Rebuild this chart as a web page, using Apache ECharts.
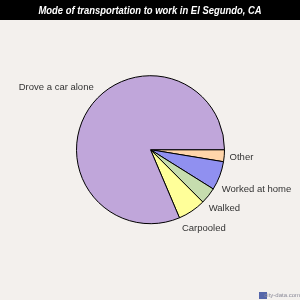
<!DOCTYPE html>
<html><head><meta charset="utf-8">
<script src="https://cdn.jsdelivr.net/npm/echarts@6/dist/echarts.min.js"></script>
<style>html,body{margin:0;padding:0;background:#f3f0ed;}#c{width:300px;height:300px;}</style>
</head><body><div id="c"></div>
<script>
const titleText = 'Mode of transportation to work in El Segundo, CA';
const categories = ['Other', 'Worked at home', 'Walked', 'Carpooled', 'Drove a car alone'];
const values = [2.6, 6.3, 3.6, 6.1, 81.4];
const colors = ['#ffd5aa', '#9090f0', '#c6ddae', '#ffff99', '#c0a6da'];

const chart = echarts.init(document.getElementById('c'), null, {renderer: 'canvas'});
const CX = 150.5, CY = 149.7, R = 74, GAP = 5;
const total = values.reduce((a, b) => a + b, 0);
const mids = [];
let acc = 0;
values.forEach(v => { mids.push((acc + v / 2) / total * 2 * Math.PI); acc += v; });

chart.setOption({
  backgroundColor: '#f3f0ed',
  animation: false,
  graphic: [
    {type: 'rect', left: 0, top: 0, z: -1, shape: {width: 300, height: 20}, style: {fill: '#000'}},
    {type: 'text', x: 150, y: 10.5, scaleX: 0.82, z: 10,
     style: {text: titleText, fill: '#fff', align: 'center', verticalAlign: 'middle',
             font: 'italic bold 11.5px "Liberation Sans", Arial, sans-serif'}},
    {type: 'rect', right: 33, bottom: 1, shape: {width: 8, height: 7}, style: {fill: '#5566aa'}},
    {type: 'text', right: 0, bottom: 2, style: {text: 'city-data.com', fill: '#8a8a99', fontSize: 6, fontFamily: 'Liberation Sans'}}
  ],
  series: [{
    type: 'pie',
    center: [CX, CY],
    radius: R,
    startAngle: 0,
    clockwise: true,
    avoidLabelOverlap: false,
    data: categories.map((n, i) => ({name: n, value: values[i], itemStyle: {color: colors[i]}})),
    itemStyle: {borderColor: '#000', borderWidth: 1},
    label: {show: true, position: 'outside', color: '#333', fontSize: 9.5, fontFamily: 'Liberation Sans'},
    labelLine: {show: false},
    emphasis: {disabled: true},
    labelLayout: function (p) {
      const a = mids[p.dataIndex];
      const c = Math.cos(a), s = Math.sin(a);
      const w = p.labelRect.width, h = p.labelRect.height;
      const d = R + GAP + Math.abs(c) * w / 2 + Math.abs(s) * h / 2;
      return {x: CX + d * c, y: CY + d * s, align: 'center', verticalAlign: 'middle'};
    }
  }]
});
</script></body></html>
